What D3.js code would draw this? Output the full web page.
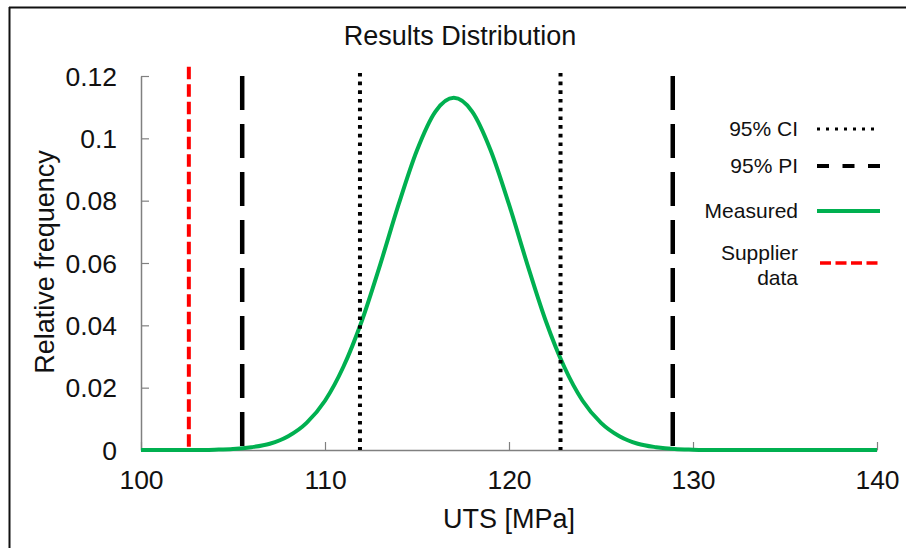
<!DOCTYPE html>
<html>
<head>
<meta charset="utf-8">
<script src="https://cdn.jsdelivr.net/npm/d3@7"></script>
<style>
  html, body { margin: 0; padding: 0; background: #fff; }
  svg { display: block; font-family: "Liberation Sans", Arial, sans-serif; }
</style>
</head>
<body>
<div id="viz"></div>
<script>
/* global d3 */

// ---- data ----
const utsValues  = [100,101,102,103,104,105,106,107,108,109,110,111,112,113,114,115,116,117,118,119,120,
                    121,122,123,124,125,126,127,128,129,130,131,132,133,134,135,136,137,138,139,140];
const measFreq   = [0,0,0,0,0.0001,0.0003,0.0009,0.002,0.0044,0.0087,0.0158,0.0267,0.0414,0.0595,0.0788,0.0962,0.1086,0.113,
                    0.1086,0.0962,0.0788,0.0595,0.0414,0.0267,0.0158,0.0087,0.0044,0.002,0.0009,0.0003,0.0001,
                    0,0,0,0,0,0,0,0,0,0];
const ciBounds       = [111.9, 122.8];
const piBounds       = [105.5, 128.9];
const supplierValue  = [102.6];
const ciTop = 0.121, piTop = 0.12, supplierTop = 0.123;
const xTicks = [100, 110, 120, 130, 140];
const yTicks = [0, 0.02, 0.04, 0.06, 0.08, 0.1, 0.12];
const legendItems = ["95% CI", "95% PI", "Measured", "Supplier data"];

// ---- layout ----
const W = 906, H = 548;
const m = { left: 141, right: 877, top: 76, bottom: 450 };
const GREEN = "#00b050", RED = "#ff0000";

const svg = d3.select("#viz").append("svg").attr("width", W).attr("height", H);

// outer frame (left + top edges visible)
svg.append("line").attr("x1", 9.5).attr("x2", 9.5).attr("y1", 7).attr("y2", H)
  .attr("stroke", "#111").attr("stroke-width", 2);
svg.append("line").attr("x1", 9).attr("x2", W).attr("y1", 7.5).attr("y2", 7.5)
  .attr("stroke", "#111").attr("stroke-width", 2);

const x = d3.scaleLinear().domain([100, 140]).range([m.left, m.right]);
const y = d3.scaleLinear().domain([0, 0.12]).range([m.bottom, m.top]);

// title
svg.append("text").attr("x", 460).attr("y", 45).attr("text-anchor", "middle")
  .style("font-size", "27px").attr("fill", "#111").text("Results Distribution");

// axes
const xAxis = svg.append("g").attr("transform", `translate(0,${m.bottom})`)
  .call(d3.axisBottom(x).tickValues(xTicks).tickSizeInner(-8).tickSizeOuter(0).tickPadding(20).tickFormat(d3.format("d")));
const yAxis = svg.append("g").attr("transform", `translate(${m.left},0)`)
  .call(d3.axisLeft(y).tickValues(yTicks).tickSizeInner(-8).tickSizeOuter(0).tickPadding(24)
    .tickFormat(d => d === 0 ? "0" : String(+d.toFixed(2))));
[xAxis, yAxis].forEach(g => {
  g.select(".domain").attr("stroke", "#808080").attr("stroke-width", 1.5);
  g.selectAll(".tick line").attr("stroke", "#808080").attr("stroke-width", 1.2);
  g.selectAll(".tick text").style("font-size", "26.5px").attr("fill", "#111").attr("font-family", null);
});
yAxis.selectAll(".tick text").attr("dy", "0.35em");
xAxis.selectAll(".tick text").attr("dy", "0.71em");

// axis labels
svg.append("text").attr("x", (m.left + m.right) / 2).attr("y", 528).attr("text-anchor", "middle")
  .style("font-size", "27px").attr("fill", "#111").text("UTS [MPa]");
svg.append("text").attr("transform", `translate(54,262) rotate(-90)`).attr("text-anchor", "middle")
  .style("font-size", "27px").attr("fill", "#111").text("Relative frequency");

// measured distribution
const line = d3.line().x(d => x(d[0])).y(d => y(d[1])).curve(d3.curveMonotoneX);
svg.append("path").datum(d3.zip(utsValues, measFreq))
  .attr("d", line).attr("fill", "none").attr("stroke", GREEN).attr("stroke-width", 4);

// vertical reference lines
function vlines(vals, top, stroke, width, dash) {
  svg.selectAll(null).data(vals).enter().append("line")
    .attr("x1", d => x(d)).attr("x2", d => x(d))
    .attr("y1", y(top)).attr("y2", y(0))
    .attr("stroke", stroke).attr("stroke-width", width)
    .attr("stroke-dasharray", dash);
}
vlines(piBounds, piTop, "#000", 4.5, "34,14");
vlines(ciBounds, ciTop, "#000", 4, "3.6,5.1");
vlines(supplierValue, supplierTop, RED, 4, "12.5,5");

// legend
const legendStyle = [
  { y: 129, stroke: "#000", w: 3.2, dash: "3,6" },
  { y: 166, stroke: "#000", w: 4, dash: "12,13.5" },
  { y: 211, stroke: GREEN, w: 4, dash: null },
  { y: 263, stroke: RED, w: 3.5, dash: "11,4.5" }
];
const lg = svg.append("g");
legendItems.forEach((name, i) => {
  const s = legendStyle[i];
  const t = lg.append("text").attr("text-anchor", "end").style("font-size", "21px").attr("fill", "#111");
  if (name === "Supplier data") {
    t.append("tspan").attr("x", 798).attr("y", 260).text("Supplier");
    t.append("tspan").attr("x", 798).attr("y", 285).text("data");
  } else {
    t.attr("x", 798).attr("y", s.y + 7).text(name);
  }
  lg.append("line").attr("x1", i === 3 ? 820 : 817).attr("x2", 880).attr("y1", s.y).attr("y2", s.y)
    .attr("stroke", s.stroke).attr("stroke-width", s.w).attr("stroke-dasharray", s.dash);
});
</script>
</body>
</html>
